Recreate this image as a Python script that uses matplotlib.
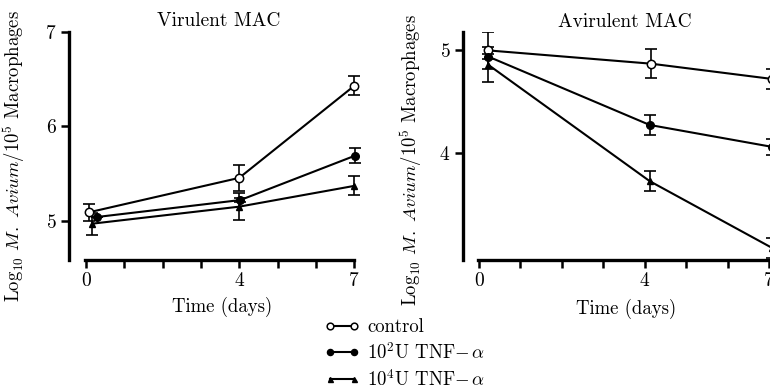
import matplotlib
matplotlib.use("Agg")
import matplotlib.pyplot as plt

plt.rcParams['font.family'] = 'serif'
plt.rcParams['font.serif'] = ['cmr10', 'DejaVu Serif']
plt.rcParams['mathtext.fontset'] = 'cm'
plt.rcParams['axes.formatter.use_mathtext'] = True

# Virulent MAC (days, log10 counts, error)
vir_ctrl_days = [0.08, 4.0, 7.0]
vir_ctrl = [5.09, 5.455, 6.43]
vir_ctrl_err = [0.09, 0.14, 0.10]
vir_t2_days = [0.28, 4.03, 7.02]
vir_t2 = [5.04, 5.22, 5.69]
vir_t2_err = [0.0, 0.02, 0.08]
vir_t4_days = [0.17, 4.0, 7.0]
vir_t4 = [4.97, 5.15, 5.37]
vir_t4_err = [0.115, 0.14, 0.10]

# Avirulent MAC
avi_ctrl_days = [0.22, 4.15, 7.08]
avi_ctrl = [5.0, 4.87, 4.72]
avi_ctrl_err = [0.18, 0.14, 0.10]
avi_t2_days = [0.22, 4.12, 7.08]
avi_t2 = [4.94, 4.27, 4.055]
avi_t2_err = [0.02, 0.10, 0.08]
avi_t4_days = [0.22, 4.12, 7.08]
avi_t4 = [4.86, 3.72, 3.065]
avi_t4_err = [0.17, 0.10, 0.10]

labels = ['control', r'$10^2$U TNF$-\,\alpha$', r'$10^4$U TNF$-\,\alpha$']
tick_days = list(range(8))
tick_labels = ['0', '', '', '', '4', '', '', '7']

W, H = 770, 389
fig = plt.figure(figsize=(7.7, 3.89), dpi=100)


def px_axes(left, right, top, bottom):
    return fig.add_axes([left / W, (H - bottom) / H, (right - left) / W, (bottom - top) / H])


ax1 = px_axes(69, 360, 32, 260)
ax2 = px_axes(463, 820, 32, 260)

styles = [dict(marker='o', mfc='white', mec='black', ms=6, mew=1.1),
          dict(marker='o', mfc='black', mec='black', ms=5.5),
          dict(marker='^', mfc='black', mec='black', ms=4.5)]


def draw(ax, series):
    handles = []
    for (d, v, e), st, lab in zip(series, styles, labels):
        ax.errorbar(d, v, yerr=e, fmt='none', ecolor='black', elinewidth=1.2,
                    capsize=4, capthick=1.2, zorder=2)
        h, = ax.plot(d, v, color='black', lw=1.5, label=lab, zorder=3, **st)
        handles.append(h)
    for s in ['top', 'right']:
        ax.spines[s].set_visible(False)
    for s in ['left', 'bottom']:
        ax.spines[s].set_linewidth(2.4)
    ax.set_xticks(tick_days)
    ax.set_xticklabels(tick_labels)
    ax.tick_params(axis='both', direction='out', length=6, width=1.8,
                   labelsize=14, pad=3)
    return handles


handles = draw(ax1, [(vir_ctrl_days, vir_ctrl, vir_ctrl_err),
                     (vir_t2_days, vir_t2, vir_t2_err),
                     (vir_t4_days, vir_t4, vir_t4_err)])
draw(ax2, [(avi_ctrl_days, avi_ctrl, avi_ctrl_err),
           (avi_t2_days, avi_t2, avi_t2_err),
           (avi_t4_days, avi_t4, avi_t4_err)])

ax1.set_xlim(-0.44, 7.15)
ax1.set_ylim(4.585, 7.0)
ax1.set_yticks([5, 6, 7])
ax1.spines['bottom'].set_bounds(-0.03, 7.0)

ax2.set_xlim(-0.386, 8.23)
ax2.set_ylim(2.948, 5.18)
ax2.set_yticks([4, 5])
ax2.spines['bottom'].set_bounds(-0.03, 8.2)

ylab = r'Log$_{10}$ $M.\ Avium$/10$^5$ Macrophages'
ax1.set_ylabel(ylab, fontsize=13.5)
ax1.yaxis.set_label_coords(-0.144, 0.455)
ax2.set_ylabel(ylab, fontsize=13.5)
ax2.yaxis.set_label_coords(-0.109, 0.44)

fig.text(219 / W, 1 - 21 / H, 'Virulent MAC', ha='center', va='center', fontsize=14)
fig.text(625 / W, 1 - 22 / H, 'Avirulent MAC', ha='center', va='center', fontsize=14)
fig.text(222 / W, 1 - 307 / H, 'Time (days)', ha='center', va='center', fontsize=13.5)
fig.text(626 / W, 1 - 309 / H, 'Time (days)', ha='center', va='center', fontsize=13.5)

fig.legend(handles=handles, loc='center left', bbox_to_anchor=(324 / W, 1 - 354 / H),
           frameon=False, numpoints=2, handlelength=1.9, handletextpad=0.4,
           labelspacing=0.3, borderpad=0, borderaxespad=0, markerscale=0.8,
           fontsize=13.5)

fig.savefig('out.png', dpi=100)
